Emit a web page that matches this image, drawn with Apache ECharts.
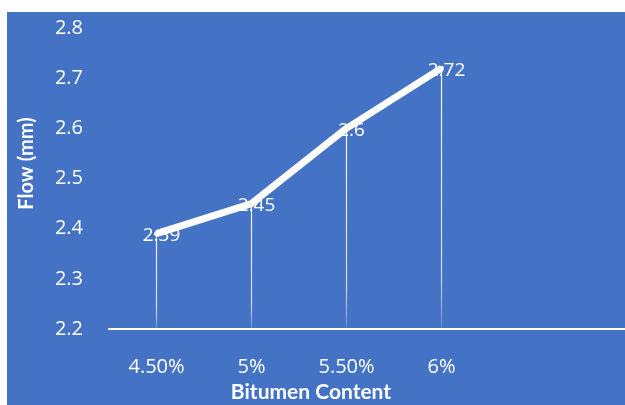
<!DOCTYPE html>
<html>
<head>
<meta charset="utf-8">
<script src="https://cdn.jsdelivr.net/npm/echarts@6/dist/echarts.min.js"></script>
<style>
  html, body { margin: 0; padding: 0; background: #ffffff; }
  #chart { position: absolute; left: 7px; top: 12px; width: 618px; height: 393px; }
</style>
</head>
<body>
<div id="chart"></div>
<script>
// Bitumen content vs. Marshall flow
const categories = ['4.50%', '5%', '5.50%', '6%', '', ''];
const flowValues = [2.39, 2.45, 2.6, 2.72];
const yTicks = { min: 2.2, max: 2.8, interval: 0.1 };

const chart = echarts.init(document.getElementById('chart'), null, { renderer: 'canvas' });

const fontFamily = '"Open Sans", Lato, sans-serif';
const titleFont = 'Lato, sans-serif';

chart.setOption({
  backgroundColor: '#4472C4',
  animation: false,
  grid: { left: 102, width: 570, top: 16, bottom: 76, outerBoundsMode: 'none', containLabel: false },
  xAxis: {
    type: 'category',
    data: categories,
    boundaryGap: true,
    name: 'Bitumen Content',
    nameLocation: 'middle',
    nameGap: 52,
    nameTextStyle: {
      color: '#ffffff', fontSize: 21, fontWeight: 'bold', fontFamily: titleFont,
      padding: [0, 166, 0, 0]
    },
    axisLine: { lineStyle: { color: '#ffffff', width: 2 } },
    axisTick: { show: false },
    axisLabel: { color: '#ffffff', fontSize: 20, fontFamily: fontFamily, margin: 28 }
  },
  yAxis: {
    type: 'value',
    min: yTicks.min,
    max: yTicks.max,
    interval: yTicks.interval,
    name: 'Flow (mm)',
    nameLocation: 'middle',
    nameGap: 72,
    nameRotate: 90,
    nameTextStyle: { color: '#ffffff', fontSize: 20, fontWeight: 'bold', fontFamily: titleFont, padding: [0, 0, 0, 30] },
    axisLine: { show: false },
    axisTick: { show: false },
    splitLine: { show: false },
    axisLabel: {
      color: '#ffffff', fontSize: 20, fontFamily: fontFamily, margin: 26,
      formatter: v => (Math.round(v * 10) / 10).toFixed(1)
    }
  },
  series: [
    {
      // vertical drop lines from each point down to the category axis
      type: 'custom',
      data: flowValues.map((v, i) => [i, v]),
      renderItem: (params, api) => {
        const top = api.coord([api.value(0), api.value(1)]);
        const bottom = api.coord([api.value(0), yTicks.min]);
        return {
          type: 'line',
          shape: { x1: top[0], y1: top[1], x2: bottom[0], y2: bottom[1] },
          style: {
            lineWidth: 1.2,
            stroke: new echarts.graphic.LinearGradient(0, 0, 0, 1, [
              { offset: 0, color: 'rgba(255,255,255,0.95)' },
              { offset: 0.8, color: 'rgba(255,255,255,0.75)' },
              { offset: 1, color: 'rgba(255,255,255,0.15)' }
            ])
          }
        };
      },
      z: 1
    },
    {
      type: 'line',
      data: flowValues,
      symbol: 'circle',
      symbolSize: 5,
      itemStyle: { color: '#ffffff' },
      lineStyle: { color: '#ffffff', width: 7 },
      z: 2,
      label: {
        show: true,
        position: 'inside',
        offset: [5, 2],
        color: '#ffffff',
        fontSize: 19,
        fontFamily: fontFamily
      }
    }
  ]
});
</script>
</body>
</html>
